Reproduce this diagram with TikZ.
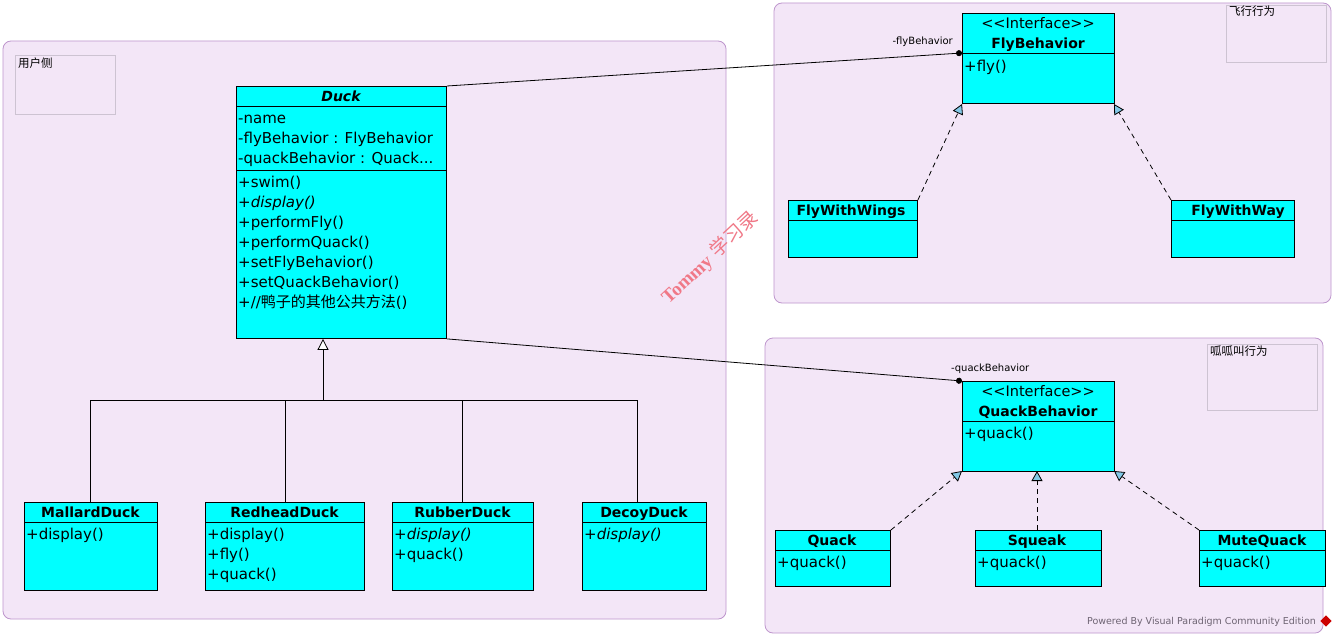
\documentclass[tikz,border=0pt]{standalone}
\usepackage{fontspec}
\setmainfont{DejaVu Sans}
\newfontfamily\cjk{Noto Sans CJK SC}
\newfontfamily\wmserif{Liberation Serif}
\usetikzlibrary{arrows.meta}
\definecolor{pkgfill}{RGB}{243,230,247}
\definecolor{pkgdraw}{RGB}{190,150,205}
\definecolor{lblbox}{RGB}{205,195,210}
\definecolor{clsfill}{RGB}{0,255,255}
\definecolor{realtip}{RGB}{130,200,230}
\definecolor{wmark}{RGB}{240,120,135}
\definecolor{footgrey}{RGB}{110,100,115}
\tikzset{
  pkg/.style={draw=pkgdraw, fill=pkgfill, rounded corners=8pt, line width=0.8pt},
  lbl/.style={draw=lblbox, line width=0.6pt},
  lbltext/.style={anchor=north west, inner sep=0pt, font=\cjk\fontsize{11.5}{13}\selectfont},
  cls/.style={draw=black, fill=clsfill, line width=0.9pt, anchor=north west, inner sep=0pt},
  ctitle/.style={inner sep=0pt, yshift=-1.5pt, text height=10.5pt, text depth=3pt, font=\bfseries\fontsize{14}{16}\selectfont},
  ctxt/.style={anchor=west, inner sep=0pt, yshift=-1.5pt, text height=11pt, text depth=3.5pt, font=\fontsize{15}{18}\selectfont},
  assoc/.style={line width=0.8pt, -{Circle[length=6pt]}},
  gen/.style={line width=0.8pt},
  realz/.style={line width=0.8pt, dashed, dash pattern=on 5pt off 4pt, -{Triangle[length=10pt,width=11pt,fill=realtip,line width=0.8pt]}},
  small/.style={inner sep=0pt, font=\fontsize{10}{11}\selectfont},
}
\begin{document}
\begin{tikzpicture}[x=1pt,y=-1pt]
\useasboundingbox (0,0) rectangle (1337,639);
\fill[white] (0,0) rectangle (1337,639);
% packages
\draw[pkg] (3,41) rectangle (726,619);
\draw[lbl] (15,55) rectangle (115,114);
\node[lbltext] (lblu) at (18,58) {用户侧};
\draw[pkg] (774,3) rectangle (1331,303);
\draw[lbl] (1226,5) rectangle (1326,62);
\node[lbltext] (lblf) at (1229,6) {飞行行为};
\draw[pkg] (765,338) rectangle (1323,633);
\draw[lbl] (1207,344) rectangle (1317,410);
\node[lbltext] (lblq) at (1210,346) {呱呱叫行为};
% Duck
\node[cls, minimum width=210pt, minimum height=252pt] (duck) at (236,86) {};
\draw[line width=0.9pt] (236,106) -- (446,106);
\draw[line width=0.9pt] (236,170) -- (446,170);
\node[ctitle, font=\bfseries\itshape\fontsize{14}{16}\selectfont] (duckt) at (341,96) {Duck};
\node[ctxt] (d1) at (238,118) {-name};
\node[ctxt] (d2) at (238,138) {-flyBehavior : FlyBehavior};
\node[ctxt] (d3) at (238,158) {-quackBehavior : Quack...};
\node[ctxt] (m1) at (238,182) {+swim()};
\node[ctxt] (m2) at (238,202) {\itshape +display()};
\node[ctxt] (m3) at (238,222) {+performFly()};
\node[ctxt] (m4) at (238,242) {+performQuack()};
\node[ctxt] (m5) at (238,262) {+setFlyBehavior()};
\node[ctxt] (m6) at (238,282) {+setQuackBehavior()};
\node[ctxt] (m7) at (238,302) {+//{\cjk 鸭子的其他公共方法}()};
% subclasses
\node[cls, minimum width=133pt, minimum height=88pt] (mallard) at (24,502) {};
\draw[line width=0.9pt] (24,522) -- (157,522);
\node[ctitle] (mallardt) at (90.5,512) {MallardDuck};
\node[ctxt] (mallard1) at (26,534) {+display()};
\node[cls, minimum width=159pt, minimum height=88pt] (redhead) at (205,502) {};
\draw[line width=0.9pt] (205,522) -- (364,522);
\node[ctitle] (redheadt) at (284.5,512) {RedheadDuck};
\node[ctxt] (redhead1) at (207,534) {+display()};
\node[ctxt] (redhead2) at (207,554) {+fly()};
\node[ctxt] (redhead3) at (207,574) {+quack()};
\node[cls, minimum width=141pt, minimum height=88pt] (rubber) at (392,502) {};
\draw[line width=0.9pt] (392,522) -- (533,522);
\node[ctitle] (rubbert) at (462.5,512) {RubberDuck};
\node[ctxt] (rubber1) at (394,534) {\itshape +display()};
\node[ctxt] (rubber2) at (394,554) {+quack()};
\node[cls, minimum width=124pt, minimum height=88pt] (decoy) at (582,502) {};
\draw[line width=0.9pt] (582,522) -- (706,522);
\node[ctitle] (decoyt) at (644,512) {DecoyDuck};
\node[ctxt] (decoy1) at (584,534) {\itshape +display()};
% generalization tree
\coordinate (j0) at (323,400);
\coordinate (jl) at (90,400);
\coordinate (jr) at (637,400);
\coordinate (j2) at (285,400);
\coordinate (j3) at (462,400);
\draw[gen] (jl) -- (jr);
\draw[gen] (jl) -- (mallard.north -| jl);
\draw[gen] (j2) -- (redhead.north -| j2);
\draw[gen] (j3) -- (rubber.north -| j3);
\draw[gen] (jr) -- (decoy.north -| jr);
\draw[gen, -{Triangle[length=11pt,width=11pt,fill=white,line width=0.8pt]}] (j0) -- (duck.south -| j0);
% FlyBehavior
\node[cls, minimum width=152pt, minimum height=90pt] (fly) at (962,13) {};
\draw[line width=0.9pt] (962,53) -- (1114,53);
\node[ctitle, font=\fontsize{14.5}{16}\selectfont] (flys) at (1038,23) {<{}<Interface>{}>};
\node[ctitle] (flyt) at (1038,43) {FlyBehavior};
\node[ctxt] (fly1) at (964,66) {+fly()};
\node[cls, minimum width=129pt, minimum height=57pt] (wings) at (788,200) {};
\draw[line width=0.9pt] (788,220) -- (917,220);
\node[ctitle] (wingst) at (851,210) {FlyWithWings};
\node[cls, minimum width=123pt, minimum height=57pt] (way) at (1171,200) {};
\draw[line width=0.9pt] (1171,220) -- (1294,220);
\node[ctitle] (wayt) at (1238,210) {FlyWithWay};
\draw[realz] (wings.north east) -- (962,104);
\draw[realz] (way.north west) -- (1114,104);
% QuackBehavior
\node[cls, minimum width=152pt, minimum height=90pt] (qb) at (962,381) {};
\draw[line width=0.9pt] (962,421) -- (1114,421);
\node[ctitle, font=\fontsize{14.5}{16}\selectfont] (qbs) at (1038,391) {<{}<Interface>{}>};
\node[ctitle] (qbt) at (1038,411) {QuackBehavior};
\node[ctxt] (qb1) at (964,433) {+quack()};
\node[cls, minimum width=115pt, minimum height=56pt] (quack) at (775,530) {};
\draw[line width=0.9pt] (775,550) -- (890,550);
\node[ctitle] (quackt) at (832,540) {Quack};
\node[ctxt] (quack1) at (777,562) {+quack()};
\node[cls, minimum width=126pt, minimum height=56pt] (squeak) at (975,530) {};
\draw[line width=0.9pt] (975,550) -- (1101,550);
\node[ctitle] (squeakt) at (1037,540) {Squeak};
\node[ctxt] (squeak1) at (977,562) {+quack()};
\node[cls, minimum width=126pt, minimum height=56pt] (mute) at (1199,530) {};
\draw[line width=0.9pt] (1199,550) -- (1325,550);
\node[ctitle] (mutet) at (1262,540) {MuteQuack};
\node[ctxt] (mute1) at (1201,562) {+quack()};
\draw[realz] (quack.north east) -- (962,471);
\draw[realz] (squeak.north -| 1037,0) -- (1037,471);
\draw[realz] (mute.north west) -- (1114,471);
% associations
\draw[assoc] (duck.north east) -- (fly.west |- 0,53);
\node[small, anchor=east] (flylbl) at (953,42) {-flyBehavior};
\draw[assoc] (duck.south east) -- (qb.north west);
\node[small, anchor=west] (qlbl) at (951,369) {-quackBehavior};
% watermark
\node[rotate=43, text=wmark, inner sep=0pt, font=\fontsize{19}{22}\selectfont] (wm) at (710,258) {{\wmserif\bfseries Tommy} {\cjk 学习录}};
% footer
\node[inner sep=0pt, anchor=east, text=footgrey, font=\fontsize{9.5}{11}\selectfont] (foot) at (1316,622) {Powered By Visual Paradigm Community Edition};
\node[draw=none, fill=red!80!black, rotate=45, minimum size=8pt, inner sep=0pt] (logo) at (1326,621) {};
\end{tikzpicture}
\end{document}
